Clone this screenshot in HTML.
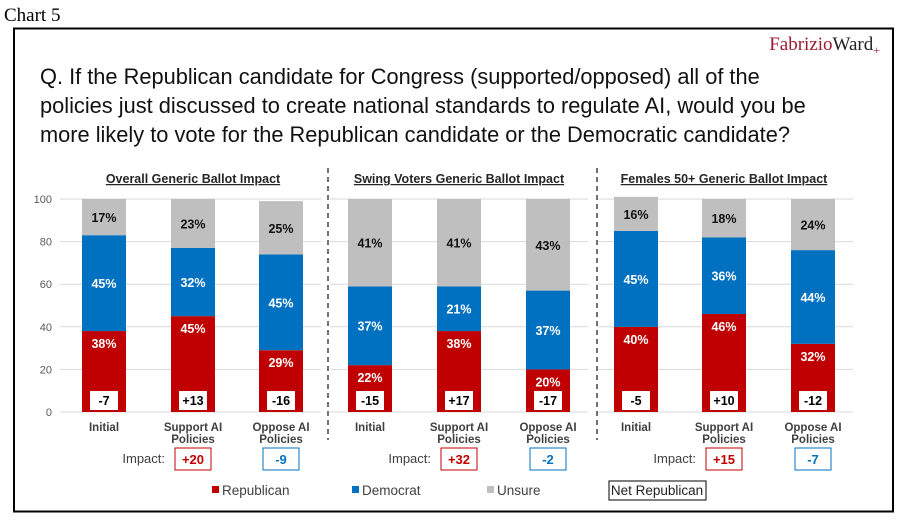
<!DOCTYPE html>
<html><head><meta charset="utf-8"><style>
body{margin:0;background:#fff;width:900px;height:521px;overflow:hidden;font-family:"Liberation Sans",sans-serif}
</style></head><body>
<svg id="c" width="900" height="521" xmlns="http://www.w3.org/2000/svg">
<text x="4" y="21" font-family="Liberation Serif" font-size="19" fill="#000">Chart 5</text>
<rect x="14" y="28.5" width="879" height="483" fill="none" stroke="#000" stroke-width="2"/>
<text x="880" y="50" text-anchor="end" font-family="Liberation Serif" font-size="19"><tspan fill="#9b1b30">Fabrizio</tspan><tspan fill="#222">Ward</tspan><tspan fill="#9b1b30" font-size="12" dy="4">+</tspan></text>
<g font-size="21.8" fill="#111">
<text x="40" y="84">Q. If the Republican candidate for Congress (supported/opposed) all of the</text>
<text x="40" y="113">policies just discussed to create national standards to regulate AI, would you be</text>
<text x="40" y="142">more likely to vote for the Republican candidate or the Democratic candidate?</text>
</g>
<g id="plot"></g>
</svg>
<script>
const panelTitles=["Overall Generic Ballot Impact","Swing Voters Generic Ballot Impact","Females 50+ Generic Ballot Impact"];
const categories=["Initial","Support AI|Policies","Oppose AI|Policies"];
const repVals=[[38,45,29],[22,38,20],[40,46,32]];
const demVals=[[45,32,45],[37,21,37],[45,36,44]];
const unsVals=[[17,23,25],[41,41,43],[16,18,24]];
const netVals=[["-7","+13","-16"],["-15","+17","-17"],["-5","+10","-12"]];
const impactVals=[["+20","-9"],["+32","-2"],["+15","-7"]];
const yTicks=[0,20,40,60,80,100];

const NS="http://www.w3.org/2000/svg";
const g=document.getElementById('plot');
function el(t,a,txt){const e=document.createElementNS(NS,t);for(const k in a)e.setAttribute(k,a[k]);if(txt!==undefined)e.textContent=txt;g.appendChild(e);return e;}
const y0=412,y100=199;
function yS(v){return y0-(y0-y100)*v/100;}
const panelX=[[104,193,281],[370,459,548],[636,724,813]];
const bw=44;
const R="#C00000",B="#0070C0",U="#BFBFBF";
for(let p=0;p<3;p++){
  const xl=p==0?60:panelX[p][0]-40, xr=panelX[p][2]+40;
  yTicks.forEach(t=>{
    const l=el('line',{x1:xl,x2:xr,y1:yS(t),y2:yS(t),stroke:'#d9d9d9','stroke-width':1});
    
    
  });
}
yTicks.forEach(t=>{
  const tx=el('text',{x:52,y:yS(t)+4,'text-anchor':'end','font-size':11,fill:'#595959'},String(t));
  
  
});
[328,597].forEach(x=>{
  const l=el('line',{x1:x,x2:x,y1:168,y2:440,stroke:'#444','stroke-width':1.5,'stroke-dasharray':'5,4'});
  
  
});
for(let p=0;p<3;p++){
  const cx=panelX[p][1];
  const tt=el('text',{x:cx,y:183,'text-anchor':'middle','font-size':12.5,'font-weight':'bold',fill:'#262626','text-decoration':'underline'},panelTitles[p]);
  
  
  for(let i=0;i<3;i++){
    const x=panelX[p][i]-bw/2;
    const r=repVals[p][i],d=demVals[p][i],u=unsVals[p][i];
    const segs=[[0,r,R,'#fff'],[r,r+d,B,'#fff'],[r+d,r+d+u,U,'#111']];
    segs.forEach((s,k)=>{
      const rc=el('rect',{x:x,y:yS(s[1]),width:bw,height:yS(s[0])-yS(s[1]),fill:s[2]});
      
      
      let ly=k==0?yS(s[1])+17:(yS(s[0])+yS(s[1]))/2+5;
      const lt=el('text',{x:panelX[p][i],y:ly,'text-anchor':'middle','font-size':12.5,'font-weight':'bold',fill:s[3]},[r,d,u][k]+'%');
      
      
    });
    const nb=el('rect',{x:panelX[p][i]-14,y:391,width:28,height:19,fill:'#fff'});
    
    
    const nt=el('text',{x:panelX[p][i],y:405,'text-anchor':'middle','font-size':12.5,'font-weight':'bold',fill:'#000'},netVals[p][i]);
    
    
    const parts=categories[i].split('|');
    parts.forEach((s,j)=>{
      const c=el('text',{x:panelX[p][i],y:431+j*12,'text-anchor':'middle','font-size':11.5,'font-weight':'bold',fill:'#404040'},s);
      
      
    });
  }
  const it=el('text',{x:panelX[p][1]-28,y:463,'text-anchor':'end','font-size':13,fill:'#404040'},'Impact:');
  
  
  for(let j=0;j<2;j++){
    const col=impactVals[p][j][0]=='+'?R:B;
    const cx2=panelX[p][j+1];
    const ib=el('rect',{x:cx2-18,y:448,width:36,height:22,fill:'#fff',stroke:col,'stroke-width':1});
    
    
    const iv=el('text',{x:cx2,y:464,'text-anchor':'middle','font-size':13,'font-weight':'bold',fill:col},impactVals[p][j]);
    
    
  }
}
const legend=[["Republican",R,212],["Democrat",B,352],["Unsure",U,487]];
legend.forEach(l=>{
  const s=el('rect',{x:l[2],y:486,width:7,height:7,fill:l[1]});
  
  
  const t=el('text',{x:l[2]+10,y:495,'font-size':13.5,fill:'#404040'},l[0]);
  
  
});
const nbx=el('rect',{x:609,y:481,width:97,height:19,fill:'#fff',stroke:'#000','stroke-width':1});


const nbt=el('text',{x:657,y:495,'text-anchor':'middle','font-size':13.5,fill:'#222'},'Net Republican');


</script>
</body></html>
